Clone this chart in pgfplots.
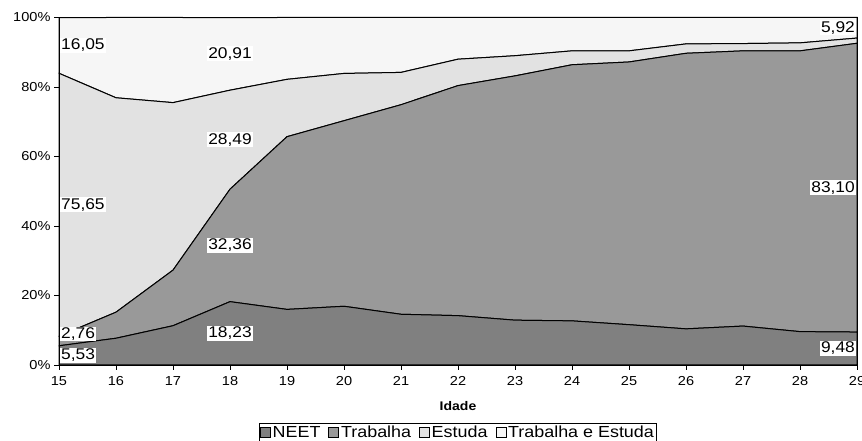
\documentclass[border=0pt]{standalone}
\usepackage{fontspec}
\setmainfont{Liberation Sans}[FakeStretch=1.12]
\usepackage{pgfplots}
\usepackage{pgfplotstable}
\pgfplotsset{compat=1.18}

\definecolor{cneet}{gray}{0.50}
\definecolor{ctrab}{gray}{0.60}
\definecolor{cestu}{gray}{0.885}
\definecolor{ctres}{gray}{0.965}

% Share (%) of young people in each situation, by age
\pgfplotstableread{
idade neet  trab  estu  tres
15    5.53  2.76  75.65 16.05
16    7.7   7.5   61.7  23.1
17    11.3  16.0  48.2  24.5
18    18.23 32.36 28.49 20.91
19    16.0  49.7  16.5  17.8
20    16.9  53.4  13.6  16.1
21    14.6  60.3  9.3   15.8
22    14.2  66.2  7.6   12.0
23    12.9  70.3  5.8   11.0
24    12.7  73.7  4.0   9.6
25    11.6  75.6  3.2   9.6
26    10.4  79.3  2.7   7.6
27    11.2  79.2  2.1   7.5
28    9.6   80.8  2.3   7.3
29    9.48  83.10 1.50  5.92
}\dados

\tikzset{lbl/.style={fill=white, inner sep=1pt, font=\fontsize{15.5}{15.5}\selectfont}}

\begin{document}
\begin{tikzpicture}[x=1pt,y=1pt]
\begin{axis}[
  at={(59pt,76pt)}, anchor=south west,
  scale only axis, width=798pt, height=347.5pt,
  xmin=15, xmax=29, ymin=0, ymax=100,
  xtick={15,...,29}, ytick={0,20,...,100},
  yticklabel={\pgfmathprintnumber{\tick}\%},
  /pgf/number format/assume math mode=true,
  tick align=outside, xtick pos=bottom, ytick pos=left,
  major tick length=5pt,
  tick style={black, line width=0.8pt},
  axis line style={line width=0.8pt},
  ticklabel style={font=\fontsize{13}{13}\selectfont},
  xticklabel style={yshift=-3pt},
  xlabel={Idade},
  xlabel style={font=\fontsize{12.5}{12.5}\selectfont\bfseries, yshift=-9pt},
  stack plots=y, area style, clip=false,
  legend image code/.code={\draw[#1, draw=black, line width=0.6pt] (0pt,-5pt) rectangle (10pt,5pt);},
  legend columns=4,
  legend style={at={(0.5,-0.1669)}, anchor=north, draw=black, line width=0.8pt,
    font=\fontsize{16}{16}\selectfont, inner sep=0.5pt,
    /tikz/every even column/.append style={column sep=6pt}},
]
\addplot[fill=cneet, draw=black, line width=1pt] table[x=idade, y=neet] {\dados} \closedcycle;
\addplot[fill=ctrab, draw=black, line width=1pt] table[x=idade, y=trab] {\dados} \closedcycle;
\addplot[fill=cestu, draw=black, line width=1pt] table[x=idade, y=estu] {\dados} \closedcycle;
\addplot[fill=ctres, draw=black, line width=1pt] table[x=idade, y=tres] {\dados} \closedcycle;
\legend{NEET, Trabalha, Estuda, Trabalha e Estuda}

% anchor points for the value labels (segment midpoints)
\coordinate (a1) at (axis cs:15,91.98);
\coordinate (a2) at (axis cs:15,46.12);
\coordinate (a3) at (axis cs:15,8.9);
\coordinate (a4) at (axis cs:15,2.77);
\coordinate (b1) at (axis cs:18,89.55);
\coordinate (b2) at (axis cs:18,64.84);
\coordinate (b3) at (axis cs:18,34.41);
\coordinate (b4) at (axis cs:18,9.12);
\coordinate (c1) at (axis cs:29,97.04);
\coordinate (c2) at (axis cs:29,51.03);
\coordinate (c3) at (axis cs:29,4.74);
\end{axis}

% value labels
\node[lbl, anchor=west, xshift=1pt] at (a1) {16,05};
\node[lbl, anchor=west, xshift=1pt] at (a2) {75,65};
\node[lbl, anchor=west, xshift=1pt] at (a3) {2,76};
\node[lbl, anchor=west, xshift=1pt] at (a4) {5,53};
\node[lbl] at (b1) {20,91};
\node[lbl] at (b2) {28,49};
\node[lbl] at (b3) {32,36};
\node[lbl] at (b4) {18,23};
\node[lbl, anchor=east, xshift=-1pt] at (c1) {5,92};
\node[lbl, anchor=east, xshift=-1pt] at (c2) {83,10};
\node[lbl, anchor=east, xshift=-1pt] at (c3) {9,48};

\pgfresetboundingbox
\useasboundingbox (0,0) rectangle (862,441);
\end{tikzpicture}
\end{document}
